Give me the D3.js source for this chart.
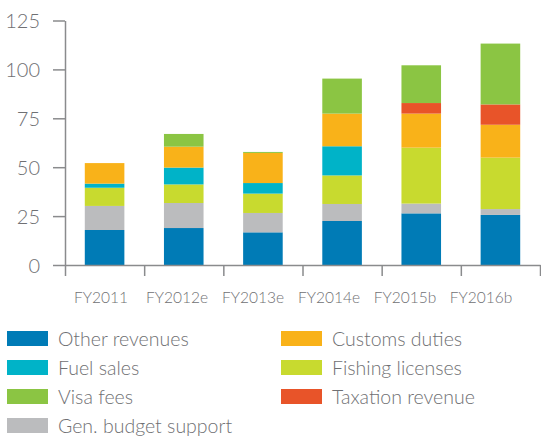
<!DOCTYPE html>
<html><head><meta charset="utf-8">
<script src="https://cdn.jsdelivr.net/npm/d3@7/dist/d3.min.js"></script>
<style>body{margin:0;background:#fff}svg{display:block}text{font-family:Lato,"Open Sans",sans-serif;font-weight:300;fill:#6f7073}</style>
</head><body><svg id="c" width="541" height="437"></svg>
<script>
const categories = ["FY2011","FY2012e","FY2013e","FY2014e","FY2015b","FY2016b"];
const otherRevenues   = [17.9, 18.9, 16.7, 22.5, 26.4, 25.6];
const genBudget       = [12.3, 12.8,  9.9,  8.7,  5.0,  3.0];
const fishingLicenses = [ 9.3,  9.5,  9.9, 14.6, 28.6, 26.3];
const fuelSales       = [ 2.1,  8.6,  5.4, 14.9,  0.0,  0.0];
const customsDuties   = [10.5, 10.7, 15.4, 16.7, 17.4, 16.8];
const taxationRevenue = [ 0.0,  0.0,  0.0,  0.0,  5.4, 10.4];
const visaFees        = [ 0.0,  6.5,  0.5, 17.9, 19.3, 31.1];
const yTicks = [0, 25, 50, 75, 100, 125];

const series = [
  {key:"Other revenues", values: otherRevenues, color:"#007bb6"},
  {key:"Gen. budget support", values: genBudget, color:"#bbbcbe"},
  {key:"Fishing licenses", values: fishingLicenses, color:"#c8da2f"},
  {key:"Fuel sales", values: fuelSales, color:"#00b3c8"},
  {key:"Customs duties", values: customsDuties, color:"#f9b219"},
  {key:"Taxation revenue", values: taxationRevenue, color:"#e85429"},
  {key:"Visa fees", values: visaFees, color:"#8bc543"}
];
const legendOrder = ["Other revenues","Customs duties","Fuel sales","Fishing licenses","Visa fees","Taxation revenue","Gen. budget support"];

const table = categories.map((c,i)=>{const o={cat:c}; series.forEach(s=>o[s.key]=s.values[i]); return o;});
const stacked = d3.stack().keys(series.map(s=>s.key))(table);
const color = d3.scaleOrdinal().domain(series.map(s=>s.key)).range(series.map(s=>s.color));

const svg = d3.select("#c");
const x = d3.scaleBand().domain(categories).range([65,540]).paddingInner(0.5).paddingOuter(0.25);
const y = d3.scaleLinear().domain([0,125]).range([265,20.5]);
const xi = d3.scaleLinear().domain([0,categories.length]).range([65,540]);
const xl = d3.scaleBand().domain(categories).range([63,519]);

svg.append("g").selectAll("g").data(stacked).join("g").attr("fill",d=>color(d.key))
  .selectAll("rect").data(d=>d).join("rect")
  .attr("x",d=>x(d.data.cat)).attr("width",x.bandwidth())
  .attr("y",d=>y(d[1])).attr("height",d=>y(d[0])-y(d[1]));

const yAxis = svg.append("g").attr("transform","translate(65,0)")
  .call(d3.axisLeft(y).tickValues(yTicks).tickSize(12).tickSizeOuter(0).tickPadding(13));
yAxis.selectAll("text").style("font-size","20px").attr("dy","0.36em");

const xAxis = svg.append("g").attr("transform","translate(0,265)")
  .call(d3.axisBottom(xi).ticks(categories.length).tickSize(11).tickSizeOuter(0).tickFormat(""));
svg.selectAll(".domain, .tick line").attr("stroke","#8a8b8d").attr("stroke-width",1.5);

svg.append("g").selectAll("text").data(categories).join("text")
  .attr("x",d=>xl(d)+xl.bandwidth()/2).attr("y",303)
  .attr("text-anchor","middle").style("font-size","15.5px").text(d=>d);

const lg = svg.append("g");
legendOrder.forEach((k,i)=>{
  const col = i%2, row = Math.floor(i/2);
  const g = lg.append("g").attr("transform",`translate(${col?281:7},${331+row*29})`);
  g.append("rect").attr("width",41).attr("height",15).attr("fill",color(k));
  g.append("text").attr("x",51).attr("y",14.5).style("font-size","19.5px").text(k);
});
</script></body></html>
